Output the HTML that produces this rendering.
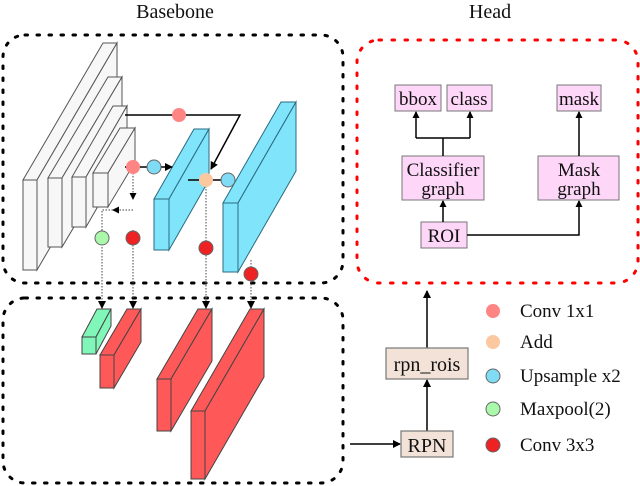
<!DOCTYPE html>
<html><head><meta charset="utf-8"><style>body{margin:0;background:#fff}svg{display:block}text{font-family:"Liberation Serif",serif;fill:#111}</style></head><body>
<svg width="640" height="486" viewBox="0 0 640 486" xmlns="http://www.w3.org/2000/svg">
<defs>
<marker id="a" markerWidth="8" markerHeight="8" refX="7" refY="4" orient="auto" markerUnits="userSpaceOnUse"><path d="M0,0 L8,4 L0,8 z" fill="#000"/></marker>
<marker id="s" markerWidth="7" markerHeight="7" refX="6" refY="3.5" orient="auto" markerUnits="userSpaceOnUse"><path d="M0,0 L7,3.5 L0,7 z" fill="#000"/></marker>
</defs>
<text x="175" y="18" font-size="20" text-anchor="middle">Basebone</text>
<text x="490" y="18" font-size="20" text-anchor="middle">Head</text>
<rect x="3" y="35" width="340" height="248" rx="22" fill="none" stroke="#000" stroke-width="3" stroke-dasharray="2.5 9.5" stroke-linecap="round"/>
<rect x="3" y="298" width="340" height="185" rx="22" fill="none" stroke="#000" stroke-width="3" stroke-dasharray="2.5 9.5" stroke-linecap="round"/>
<rect x="357" y="40" width="281" height="243" rx="22" fill="none" stroke="#f00" stroke-width="3" stroke-dasharray="2.5 10.5" stroke-linecap="round"/>
<g stroke="#555" stroke-width="1" fill="#f7f7f7">
<path d="M23,180 L37,180 L117,43 L103,43 z"/><path d="M37,180 L117,43 L117,133 L37,270 z"/><rect x="23" y="180" width="14" height="90"/>
<path d="M48,178 L62,178 L122,77 L108,77 z"/><path d="M62,178 L122,77 L122,146 L62,247 z"/><rect x="48" y="178" width="14" height="69"/>
<path d="M72,177 L86,177 L127,106 L113,106 z"/><path d="M86,177 L127,106 L127,156 L86,227 z"/><rect x="72" y="177" width="14" height="50"/>
<path d="M93,173 L108,173 L135,128 L120,128 z"/><path d="M108,173 L135,128 L135,162 L108,207 z"/><rect x="93" y="173" width="15" height="34"/>
</g>
<g stroke="#2a6b80" stroke-width="1" fill="#80e4fa">
<path d="M154,199 L169,199 L209,129 L194,129 z"/><path d="M169,199 L209,129 L209,180 L169,250 z"/><rect x="154" y="199" width="15" height="51"/>
<path d="M223,203 L238,203 L296,102 L281,102 z"/><path d="M238,203 L296,102 L296,171 L238,272 z"/><rect x="223" y="203" width="15" height="69"/>
</g>
<g stroke="#444" stroke-width="1">
<g fill="#80f7b8"><path d="M82,337 L96,337 L111,309 L97,309 z"/><path d="M96,337 L111,309 L111,326 L96,354 z"/><rect x="82" y="337" width="14" height="17"/></g>
<g fill="#ff5858">
<path d="M100,355 L114,355 L141,309 L127,309 z"/><path d="M114,355 L141,309 L141,342 L114,388 z"/><rect x="100" y="355" width="14" height="33"/>
<path d="M157,379 L171,379 L212,309 L198,309 z"/><path d="M171,379 L212,309 L212,361 L171,431 z"/><rect x="157" y="379" width="14" height="52"/>
<path d="M191,411 L205,411 L264,309 L250,309 z"/><path d="M205,411 L264,309 L264,377 L205,479 z"/><rect x="191" y="411" width="14" height="68"/>
</g></g>
<g stroke="#000" stroke-width="1.5" fill="none">
<polyline points="125,115 240,115 211,169" marker-end="url(#a)"/>
<line x1="125" y1="167" x2="172" y2="167" marker-end="url(#a)"/>
<line x1="188" y1="180" x2="234" y2="180"/>
</g>
<g stroke="#666" stroke-width="1.2" stroke-dasharray="1.5 1.5" fill="none">
<line x1="133" y1="167" x2="133" y2="199" marker-end="url(#s)"/>
<line x1="133" y1="210" x2="113" y2="210" marker-end="url(#s)"/>
<polyline points="113,210 102,210 102,308" marker-end="url(#a)"/>
<line x1="133" y1="230" x2="133" y2="308" marker-end="url(#a)"/>
<line x1="206" y1="180" x2="206" y2="308" marker-end="url(#a)"/>
<line x1="251" y1="260" x2="251" y2="308" marker-end="url(#a)"/>
</g>
<g stroke="#666" stroke-width="1">
<circle cx="179" cy="115" r="7" fill="#ff8484" stroke="none"/>
<circle cx="133" cy="167" r="7" fill="#ff8484" stroke="none"/>
<circle cx="154" cy="167" r="7" fill="#80dcf4"/>
<circle cx="206" cy="180" r="7" fill="#fcc8a0" stroke="none"/>
<circle cx="228" cy="180" r="7" fill="#80dcf4"/>
<circle cx="102" cy="238" r="7" fill="#aaf8aa"/>
<circle cx="133" cy="238" r="7" fill="#ee2222"/>
<circle cx="206" cy="248" r="7" fill="#ee2222"/>
<circle cx="251" cy="274" r="7" fill="#ee2222"/>
</g>
<g fill="#fdd6f8" stroke="#777" stroke-width="1">
<rect x="395" y="85" width="46" height="26"/><rect x="447" y="85" width="45" height="26"/><rect x="557" y="85" width="44" height="26"/>
<rect x="402" y="156" width="82" height="44"/><rect x="538" y="156" width="81" height="44"/><rect x="421" y="222" width="46" height="26"/>
</g>
<g font-size="19" text-anchor="middle">
<text x="418" y="105">bbox</text><text x="469" y="105">class</text><text x="579" y="105">mask</text>
<text x="443" y="176">Classifier</text><text x="443" y="195">graph</text>
<text x="579" y="176">Mask</text><text x="579" y="195">graph</text>
<text x="444" y="242">ROI</text>
</g>
<g stroke="#000" stroke-width="1.5" fill="none">
<line x1="443" y1="156" x2="443" y2="138"/>
<line x1="416" y1="138" x2="470" y2="138"/>
<line x1="416" y1="138" x2="416" y2="112" marker-end="url(#s)"/>
<line x1="470" y1="138" x2="470" y2="112" marker-end="url(#s)"/>
<line x1="579" y1="156" x2="579" y2="112" marker-end="url(#s)"/>
<line x1="443" y1="222" x2="443" y2="201" marker-end="url(#s)"/>
<polyline points="467,235 579,235 579,201" marker-end="url(#s)"/>
<line x1="350" y1="444" x2="400" y2="444" marker-end="url(#a)"/>
<line x1="427" y1="431" x2="427" y2="380" marker-end="url(#a)"/>
<line x1="427" y1="348" x2="427" y2="291" marker-end="url(#a)"/>
</g>
<g fill="#f3e2d8" stroke="#777" stroke-width="1.2">
<rect x="386" y="348" width="82" height="31"/><rect x="401" y="431" width="52" height="26"/>
</g>
<text x="427" y="371" font-size="20" text-anchor="middle">rpn_rois</text>
<text x="427" y="452" font-size="20" text-anchor="middle">RPN</text>
<g stroke="#666" stroke-width="1">
<circle cx="493" cy="311" r="7" fill="#ff8484" stroke="none"/>
<circle cx="493" cy="342" r="7" fill="#fcc8a0" stroke="none"/>
<circle cx="493" cy="376" r="7" fill="#80dcf4"/>
<circle cx="493" cy="409" r="7" fill="#aaf8aa"/>
<circle cx="493" cy="445" r="7" fill="#ee2222"/>
</g>
<g font-size="19">
<text x="520" y="317">Conv 1x1</text><text x="520" y="348">Add</text><text x="520" y="382">Upsample x2</text><text x="520" y="415">Maxpool(2)</text><text x="520" y="451">Conv 3x3</text>
</g>
</svg>
</body></html>
